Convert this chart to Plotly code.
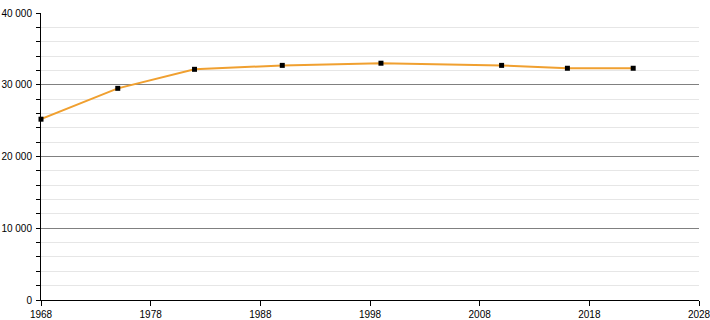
import plotly.graph_objects as go

years = [1968, 1975, 1982, 1990, 1999, 2010, 2016, 2022]
population = [25200, 29500, 32150, 32700, 33000, 32700, 32300, 32300]
x_ticks = [1968, 1978, 1988, 1998, 2008, 2018, 2028]
y_ticks = [0, 10000, 20000, 30000, 40000]
y_labels = ["0", "10 000", "20 000", "30 000", "40 000"]

fig = go.Figure()
fig.add_trace(go.Scatter(
    x=years, y=population, mode="lines+markers",
    line=dict(color="#f0a030", width=2),
    marker=dict(symbol="square", size=5, color="black"),
    showlegend=False, hoverinfo="skip", cliponaxis=False,
))

fig.update_layout(
    width=710, height=320,
    margin=dict(l=41, r=11, t=13, b=20),
    paper_bgcolor="white", plot_bgcolor="white",
    font=dict(family="Liberation Sans, Arial, sans-serif", size=10, color="black"),
    xaxis=dict(
        range=[1968, 2028], tickvals=x_ticks, ticktext=[str(v) for v in x_ticks],
        ticks="outside", ticklen=5, tickcolor="black",
        showline=True, linecolor="black", linewidth=1,
        showgrid=False, zeroline=False, fixedrange=True,
        automargin=False, ticklabeloverflow="allow",
        tickfont=dict(color="black"),
    ),
    yaxis=dict(
        range=[0, 40000], tickvals=y_ticks, ticktext=y_labels,
        ticks="outside", ticklen=4, tickcolor="black",
        showline=True, linecolor="black", linewidth=1,
        showgrid=True, gridcolor="#808080", gridwidth=1, zeroline=False,
        minor=dict(dtick=2000, showgrid=True, gridcolor="#e6e6e6",
                   ticks="outside", ticklen=4, tickcolor="black"),
        ticklabelstandoff=2, automargin=False, ticklabeloverflow="allow",
        tickfont=dict(color="black"),
    ),
)

fig.write_html("out.html")
